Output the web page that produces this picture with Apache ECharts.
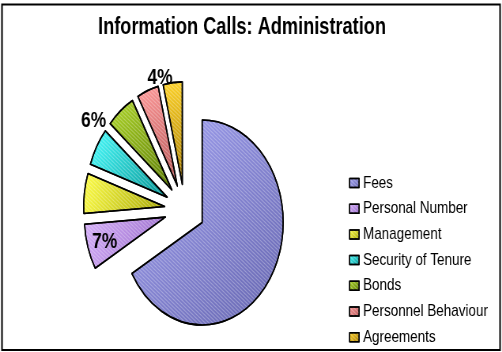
<!DOCTYPE html>
<html>
<head>
<meta charset="utf-8">
<script src="https://cdn.jsdelivr.net/npm/echarts@6/dist/echarts.min.js"></script>
<style>
  html, body { margin: 0; padding: 0; background: #fff; overflow: hidden; }
  #wrap { width: 502px; height: 352px; overflow: hidden; position: relative; }
  /* the chart is laid out on a wider canvas and condensed horizontally */
  #chart { width: 635px; height: 352px; transform: scaleX(0.7906); transform-origin: 0 0; }
</style>
</head>
<body>
<div id="wrap"><div id="chart"></div></div>
<script>
// Share of information calls per administration topic (%)
const categories = ['Fees', 'Personal Number', 'Management', 'Security of Tenure', 'Bonds', 'Personnel Behaviour', 'Agreements'];
const shares = [66.7, 7.2, 6.3, 6.0, 5.7, 4.3, 3.8];
// slices that carry a percentage label
const labelled = ['Personal Number', 'Bonds', 'Agreements'];

const palette = [
  ['#a4a4f4', '#6464ae'],
  ['#d6b0fa', '#9466c6'],
  ['#ffff4a', '#a4a400'],
  ['#4affff', '#009090'],
  ['#b0d82a', '#587800'],
  ['#ff9a9a', '#b45454'],
  ['#ffd42a', '#a87c00']
];

// label nudges [dx, dy] away from the default pie label spot
const labelNudge = {
  'Personal Number': { position: 'inside', shift: [-25, 9] },
  'Bonds': { position: 'outside', shift: [-13, 10] },
  'Agreements': { position: 'outside', shift: [5, -5] }
};

const data = categories.map((name, i) => {
  const item = {
    name,
    value: shares[i],
    selected: true,
    itemStyle: {
      color: {
        type: 'linear', x: 0, y: 0, x2: 1, y2: 1,
        colorStops: [{ offset: 0, color: palette[i][0] }, { offset: 1, color: palette[i][1] }]
      }
    }
  };
  if (labelled.includes(name)) {
    item.label = { show: true, position: labelNudge[name].position };
  }
  return item;
});

const chart = echarts.init(document.getElementById('chart'), null, { renderer: 'canvas' });
chart.setOption({
  animation: false,
  backgroundColor: '#fff',
  title: {
    text: 'Information Calls: Administration',
    left: 124,
    top: 16,
    padding: 0,
    textStyle: { fontFamily: 'Liberation Sans', fontSize: 23, fontWeight: 'bold', color: '#000' }
  },
  legend: {
    orient: 'vertical',
    left: 441.5,
    top: 173,
    height: 185,
    padding: 0,
    itemWidth: 12,
    itemHeight: 9,
    itemGap: 5.7,
    selectedMode: false,
    icon: 'rect',
    textStyle: { fontFamily: 'Liberation Sans', fontSize: 17, color: '#000', lineHeight: 20 },
    itemStyle: { borderColor: '#000', borderWidth: 1.5 },
    data: categories
  },
  graphic: [{
    type: 'rect',
    shape: { x: 2.5, y: 4.5, width: 630, height: 345.5 },
    style: { fill: 'none', stroke: '#000', lineWidth: 2 },
    silent: true
  }],
  series: [{
    type: 'pie',
    center: [233.6, 209.7],
    radius: 102.5,
    startAngle: 90,
    clockwise: true,
    selectedMode: 'multiple',
    selectedOffset: 25.5,
    avoidLabelOverlap: false,
    silent: true,
    itemStyle: {
      borderColor: '#000',
      borderWidth: 1.6,
      decal: {
        symbol: 'rect',
        symbolSize: 1,
        dashArrayX: [[1, 0]],
        dashArrayY: [1, 2],
        rotation: 0.66,
        color: 'rgba(255,255,255,0.3)'
      }
    },
    label: {
      show: false,
      fontFamily: 'Liberation Sans',
      fontSize: 22,
      fontWeight: 'bold',
      color: '#000',
      formatter: p => Math.round(p.percent) + '%'
    },
    labelLine: { show: false, length: 0, length2: 0 },
    labelLayout: p => {
      const nudge = labelNudge[categories[p.dataIndex]];
      return nudge ? { dx: nudge.shift[0], dy: nudge.shift[1] } : {};
    },
    data
  }]
});
</script>
</body>
</html>
